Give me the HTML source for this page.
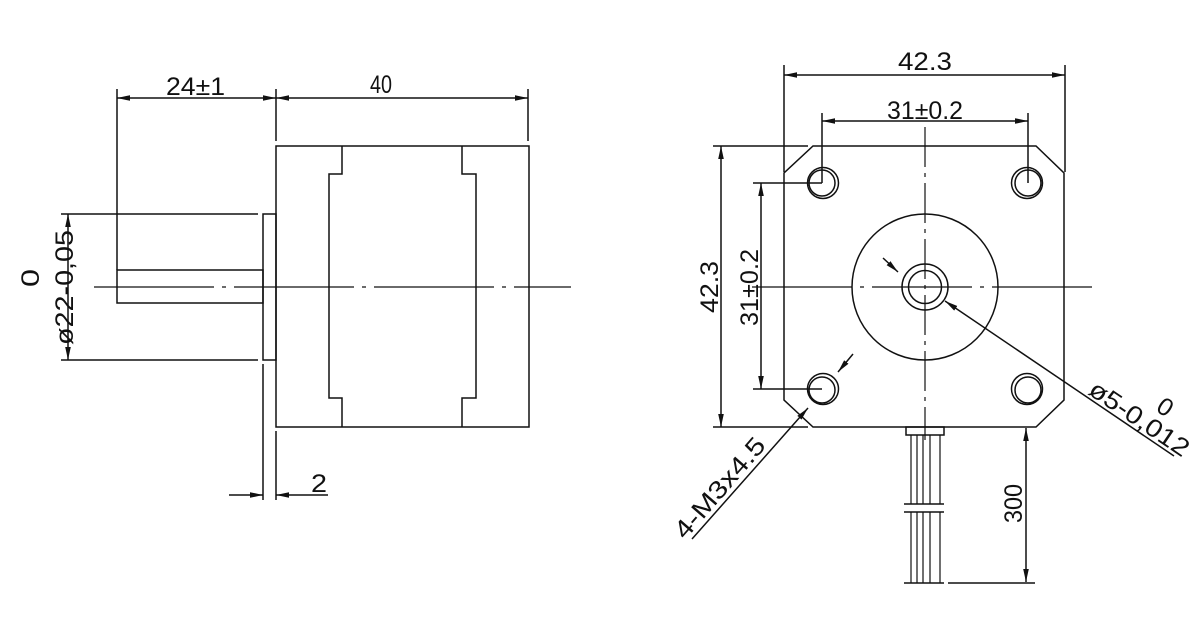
<!DOCTYPE html>
<html><head><meta charset="utf-8"><style>
html,body{margin:0;padding:0;background:#fff;}
svg{display:block;}
text{font-family:"Liberation Sans",sans-serif;fill:#111;font-size:25px;}
</style></head><body>
<svg width="1200" height="637" viewBox="0 0 1200 637" xmlns="http://www.w3.org/2000/svg">
<defs>
<marker id="a" viewBox="0 0 13 6" refX="13" refY="3" markerWidth="13" markerHeight="6" markerUnits="userSpaceOnUse" orient="auto-start-reverse">
<path d="M0,0.2 L13,3 L0,5.8 Z" fill="#111"/></marker>
</defs>
<g stroke="#111" stroke-width="1.5" fill="none">
<!-- LEFT VIEW -->
<rect x="276" y="146" width="253" height="281"/>
<path d="M342,146 V174 H329 V398 H342 V427"/>
<path d="M462,146 V174 H476 V398 H462 V427"/>
<rect x="263" y="214" width="13" height="146"/>
<rect x="117" y="270" width="146" height="33"/>
<line x1="94" y1="287" x2="571" y2="287" stroke-dasharray="120 8 4 8" stroke-width="1.2"/>
<line x1="117" y1="89" x2="117" y2="270"/>
<line x1="276" y1="89" x2="276" y2="141"/>
<line x1="528" y1="89" x2="528" y2="141"/>
<line x1="117" y1="98" x2="276" y2="98" marker-start="url(#a)" marker-end="url(#a)"/>
<line x1="276" y1="98" x2="528" y2="98" marker-start="url(#a)" marker-end="url(#a)"/>
<line x1="61" y1="214" x2="258" y2="214"/>
<line x1="61" y1="360" x2="258" y2="360"/>
<line x1="68" y1="214" x2="68" y2="360" marker-start="url(#a)" marker-end="url(#a)"/>
<line x1="263" y1="364" x2="263" y2="500"/>
<line x1="276" y1="431" x2="276" y2="500"/>
<line x1="229" y1="495" x2="263" y2="495" marker-end="url(#a)"/>
<line x1="328" y1="495" x2="276" y2="495" marker-end="url(#a)"/>

<!-- RIGHT VIEW -->
<path d="M813,146 H1036 L1064,173 V400 L1036,427 H813 L784,400 V173 Z"/>
<circle cx="925" cy="287" r="73"/>
<circle cx="925" cy="287" r="23"/>
<circle cx="925" cy="287" r="16.5"/>
<g>
<circle cx="822" cy="183" r="13"/><circle cx="823" cy="183" r="15.5"/>
<circle cx="1028" cy="183" r="13"/><circle cx="1027" cy="183" r="15.5"/>
<circle cx="822" cy="390" r="13"/><circle cx="823" cy="389" r="15.5"/>
<circle cx="1028" cy="390" r="13"/><circle cx="1027" cy="389" r="15.5"/>
</g>
<line x1="925" y1="127" x2="925" y2="440" stroke-dasharray="40 6 4 6" stroke-width="1.2"/>
<line x1="752" y1="287" x2="1098" y2="287" stroke-dasharray="100 8 4 8" stroke-width="1.2"/>
<line x1="784" y1="65" x2="784" y2="172"/>
<line x1="1065" y1="65" x2="1065" y2="172"/>
<line x1="784" y1="75" x2="1065" y2="75" marker-start="url(#a)" marker-end="url(#a)"/>
<line x1="822" y1="113" x2="822" y2="183"/>
<line x1="1028" y1="113" x2="1028" y2="183"/>
<line x1="822" y1="121" x2="1028" y2="121" marker-start="url(#a)" marker-end="url(#a)"/>
<line x1="713" y1="146" x2="808" y2="146"/>
<line x1="713" y1="427" x2="808" y2="427"/>
<line x1="721" y1="146" x2="721" y2="427" marker-start="url(#a)" marker-end="url(#a)"/>
<line x1="753" y1="183" x2="822" y2="183"/>
<line x1="753" y1="389" x2="822" y2="389"/>
<line x1="761" y1="183" x2="761" y2="389" marker-start="url(#a)" marker-end="url(#a)"/>
<line x1="853" y1="354" x2="838" y2="372" marker-end="url(#a)"/>
<line x1="692" y1="539" x2="808" y2="408" marker-end="url(#a)"/>
<line x1="883" y1="258" x2="898" y2="272" marker-end="url(#a)"/>
<line x1="1174" y1="456" x2="945" y2="301" marker-end="url(#a)"/>
<rect x="906" y="427" width="38" height="8"/>
<g stroke-width="1.2">
<line x1="911" y1="435" x2="911" y2="504"/><line x1="917" y1="435" x2="917" y2="504"/>
<line x1="923" y1="435" x2="923" y2="504"/><line x1="930" y1="435" x2="930" y2="504"/>
<line x1="940" y1="435" x2="940" y2="504"/>
<line x1="911" y1="512" x2="911" y2="583"/><line x1="917" y1="512" x2="917" y2="583"/>
<line x1="923" y1="512" x2="923" y2="583"/><line x1="930" y1="512" x2="930" y2="583"/>
<line x1="940" y1="512" x2="940" y2="583"/>
</g>
<line x1="904" y1="504" x2="944" y2="504"/>
<line x1="904" y1="512" x2="944" y2="512"/>
<line x1="904" y1="583" x2="944" y2="583"/>
<line x1="948" y1="583" x2="1035" y2="583"/>
<line x1="1026" y1="428" x2="1026" y2="582" marker-start="url(#a)" marker-end="url(#a)"/>
</g>
<text x="166" y="95" textLength="59" lengthAdjust="spacingAndGlyphs">24±1</text>
<text x="370" y="93" textLength="22" lengthAdjust="spacingAndGlyphs">40</text>
<text x="311" y="492" textLength="16" lengthAdjust="spacingAndGlyphs">2</text>
<text transform="translate(73,345) rotate(-90)" textLength="115" lengthAdjust="spacingAndGlyphs">ø22-0,05</text>
<text transform="translate(39,287) rotate(-90)" textLength="18" lengthAdjust="spacingAndGlyphs">0</text>
<text x="898" y="70" textLength="54" lengthAdjust="spacingAndGlyphs">42.3</text>
<text x="887" y="119" textLength="76" lengthAdjust="spacingAndGlyphs">31±0.2</text>
<text transform="translate(718,313) rotate(-90)" textLength="52" lengthAdjust="spacingAndGlyphs">42.3</text>
<text transform="translate(758,326) rotate(-90)" textLength="77" lengthAdjust="spacingAndGlyphs">31±0.2</text>
<text transform="translate(1022,523) rotate(-90)" textLength="39" lengthAdjust="spacingAndGlyphs">300</text>
<text transform="translate(729,496) rotate(-49)" y="-4" text-anchor="middle" textLength="125" lengthAdjust="spacingAndGlyphs">4-M3x4.5</text>
<text transform="translate(1133,428) rotate(34)" y="-3" text-anchor="middle" textLength="115" lengthAdjust="spacingAndGlyphs">ø5-0,012</text>
<text transform="translate(1133,428) rotate(34)" x="8" y="-27" font-size="22">0</text>
</svg>
</body></html>
